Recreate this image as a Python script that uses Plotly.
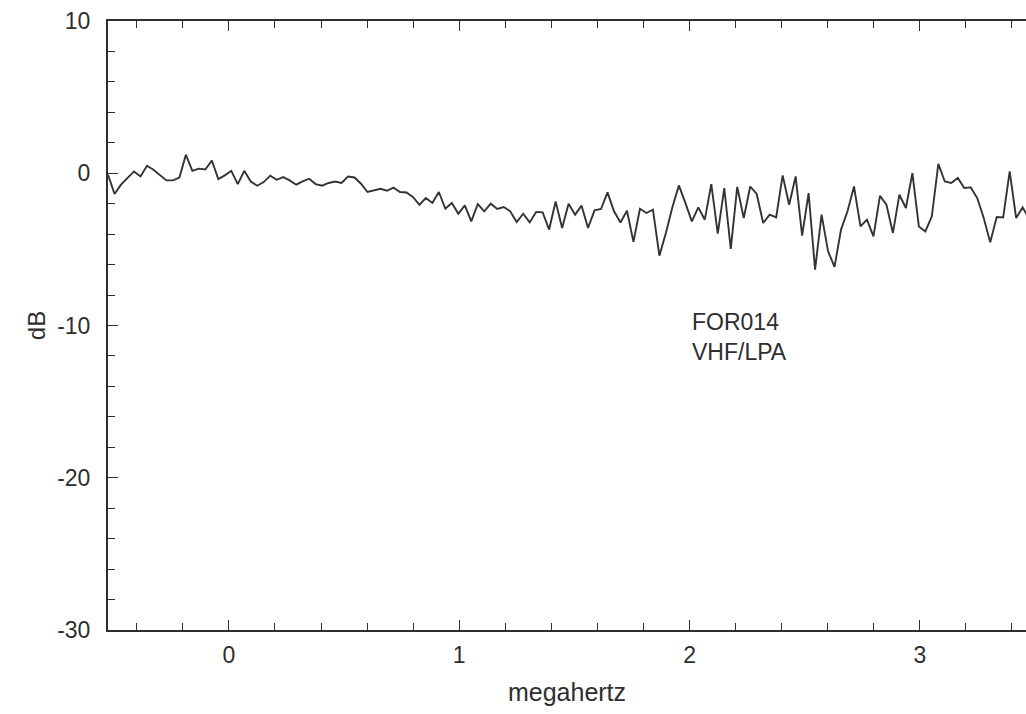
import plotly.graph_objects as go
import numpy as np

# Sweep of the receiver: uniform frequency grid (MHz)
f_start = -0.5248
f_step = 0.028165

# Measured response (dB), one value per frequency bin
response_db = [
    -0.10, -1.36, -0.75, -0.31, 0.12, -0.21, 0.49, 0.23, -0.10, -0.47,
    -0.47, -0.28, 1.21, 0.16, 0.30, 0.25, 0.84, -0.38, -0.14, 0.16,
    -0.71, 0.16, -0.54, -0.82, -0.58, -0.16, -0.43, -0.25, -0.47, -0.75,
    -0.54, -0.36, -0.71, -0.82, -0.64, -0.54, -0.64, -0.21, -0.28, -0.69,
    -1.23, -1.15, -1.02, -1.15, -0.95, -1.23, -1.26, -1.56, -2.07, -1.63,
    -1.95, -1.23, -2.33, -1.95, -2.66, -2.11, -3.16, -2.02, -2.50, -2.00,
    -2.35, -2.22, -2.50, -3.20, -2.66, -3.23, -2.54, -2.57, -3.70, -1.85,
    -3.59, -2.00, -2.72, -2.13, -3.59, -2.44, -2.35, -1.26, -2.50, -3.23,
    -2.46, -4.51, -2.33, -2.61, -2.39, -5.41, -3.92, -2.24, -0.80, -1.95,
    -3.16, -2.24, -3.05, -0.71, -3.97, -0.97, -4.97, -0.90, -2.94, -0.87,
    -1.36, -3.27, -2.72, -2.90, -0.14, -2.07, -0.21, -4.10, -1.30, -6.33,
    -2.72, -5.13, -6.15, -3.70, -2.50, -0.87, -3.49, -3.05, -4.14, -1.48,
    -2.07, -3.92, -1.41, -2.28, 0.01, -3.49, -3.82, -2.83, 0.62, -0.54,
    -0.64, -0.31, -0.97, -0.93, -1.63, -2.94, -4.54, -2.87, -2.90, 0.12,
    -2.94, -2.24, -3.00,
]

freq_mhz = f_start + f_step * np.arange(len(response_db))

x_ticks = [0, 1, 2, 3]
y_ticks = [-30, -20, -10, 0, 10]
label_lines = ["FOR014", "VHF/LPA"]

ink = "#2e2e2e"
font_family = "Liberation Sans, Arial, sans-serif"

fig = go.Figure()
fig.add_trace(go.Scatter(
    x=freq_mhz, y=response_db, mode="lines",
    line=dict(color="#333333", width=1.9),
    hoverinfo="skip", showlegend=False,
))

fig.add_annotation(
    x=2.003, y=-10.75, xref="x", yref="y",
    text="<br>".join(label_lines), showarrow=False,
    xanchor="left", yanchor="middle", align="left",
    font=dict(family=font_family, size=23, color=ink),
)

fig.update_xaxes(
    range=[-0.525, 3.461],
    tickvals=x_ticks, ticktext=[str(v) for v in x_ticks],
    ticks="inside", ticklen=10, tickwidth=1.3, tickcolor=ink,
    minor=dict(dtick=0.2, ticks="inside", ticklen=7, tickwidth=1.3, tickcolor=ink),
    showline=True, linecolor=ink, linewidth=2, mirror="ticks",
    showgrid=False, zeroline=False,
    tickfont=dict(family=font_family, size=23, color=ink),
    ticklabelstandoff=3,
    title=dict(text="megahertz", font=dict(family=font_family, size=25, color=ink), standoff=17),
)
fig.update_yaxes(
    range=[-30, 10],
    tickvals=y_ticks, ticktext=[str(v) for v in y_ticks],
    ticks="inside", ticklen=10, tickwidth=1.3, tickcolor=ink,
    minor=dict(dtick=2, ticks="inside", ticklen=7, tickwidth=1.3, tickcolor=ink),
    showline=True, linecolor=ink, linewidth=2, mirror=False,
    showgrid=False, zeroline=False,
    tickfont=dict(family=font_family, size=23, color=ink),
    ticklabelstandoff=11,
    title=dict(text="dB", font=dict(family=font_family, size=24, color=ink), standoff=5),
)

fig.update_layout(
    width=1026, height=714,
    margin=dict(l=108, r=0, t=21, b=84, autoexpand=False),
    paper_bgcolor="white", plot_bgcolor="white",
)

fig.write_html("out.html")
